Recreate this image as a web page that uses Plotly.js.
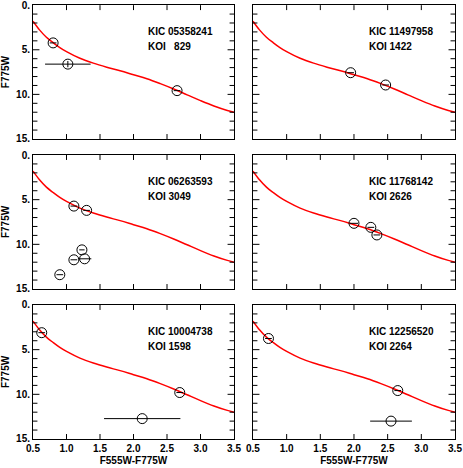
<!DOCTYPE html>
<html>
<head>
<meta charset="utf-8">
<script src="https://cdn.plot.ly/plotly-3.0.1.min.js"></script>
<style>
  body { margin: 0; background: #fff; }
  #myPlot { width: 463px; height: 468px; }
</style>
</head>
<body>
<div id="myPlot"></div>
<script>
// isochrone (same in every panel)
var isoColor = [0.5, 0.6, 0.7, 0.8, 0.9, 1.0, 1.2, 1.4, 1.6, 1.8, 2.0, 2.2, 2.4, 2.6, 2.8, 3.0, 3.2, 3.4, 3.5];
var isoMag   = [1.8, 2.8, 3.6, 4.2, 4.75, 5.2, 5.95, 6.5, 6.95, 7.35, 7.8, 8.25, 8.8, 9.4, 10.05, 10.7, 11.3, 11.8, 12.0];

// stars per panel
var kic = ["05358241", "11497958", "06263593", "11768142", "10004738", "12256520"];
var koi = ["KOI&nbsp;&nbsp;&nbsp;829", "KOI 1422", "KOI 3049", "KOI 2626", "KOI 1598", "KOI 2264"];

var starColor = [
  [0.80, 1.02, 2.65],
  [1.95, 2.47],
  [1.11, 1.30, 1.23, 1.11, 1.27, 0.90],
  [2.00, 2.25, 2.34],
  [0.63, 2.69, 2.13],
  [0.73, 2.65, 2.55]
];
var starMag = [
  [4.23, 6.61, 9.58],
  [7.57, 8.95],
  [5.72, 6.20, 10.62, 11.73, 11.62, 13.40],
  [7.65, 8.10, 8.95],
  [3.10, 9.80, 12.72],
  [3.75, 9.58, 13.00]
];
var colorErr = [
  [0.05, 0.34, 0.05],
  [0.05, 0.05],
  [0.05, 0.05, 0.04, 0.05, 0.10, 0.05],
  [0.06, 0.05, 0.05],
  [0.05, 0.05, 0.57],
  [0.05, 0.05, 0.31]
];
var magErr = [
  [0, 0.35, 0],
  [0, 0],
  [0, 0, 0, 0, 0, 0],
  [0, 0, 0],
  [0, 0, 0],
  [0, 0, 0]
];

// tick positions (inner ones get tick marks on both sides of the frame)
var xTickVals = [1.0, 1.5, 2.0, 2.5, 3.0];
var yMajorVals = [5, 10];
var yMinorVals = [1, 2, 3, 4, 6, 7, 8, 9, 11, 12, 13, 14];

var xDomains = [[0.0713, 0.5054], [0.5464, 0.9827]];
var yDomains = [[0.703, 0.989], [0.3825, 0.6688], [0.062, 0.3483]];

var fam = "Liberation Sans, Arial, sans-serif";
var boldFont = {family: fam, size: 10, color: "#000", weight: "bold"};

var data = [];
var layout = {
  width: 463, height: 468,
  margin: {l: 0, r: 0, t: 0, b: 0},
  showlegend: false,
  paper_bgcolor: "#fff",
  plot_bgcolor: "#fff",
  font: {family: fam, size: 10, color: "#000"},
  annotations: [],
  shapes: []
};

function tickLine(xr, yr, x0, x1, y0, y1) {
  return {type: "line", xref: xr, yref: yr, x0: x0, x1: x1, y0: y0, y1: y1,
          line: {color: "#000", width: 1}, layer: "above"};
}

for (var i = 0; i < 6; i++) {
  var n = i + 1;
  var xa = n === 1 ? "x" : "x" + n;
  var ya = n === 1 ? "y" : "y" + n;
  var col = i % 2;
  var row = Math.floor(i / 2);

  data.push({
    x: isoColor, y: isoMag, xaxis: xa, yaxis: ya,
    mode: "lines", type: "scatter",
    line: {color: "#ff0000", width: 1.5, shape: "spline"},
    hoverinfo: "skip"
  });
  data.push({
    x: starColor[i], y: starMag[i], xaxis: xa, yaxis: ya,
    mode: "markers", type: "scatter",
    marker: {symbol: "circle-open", size: 10, color: "#000", line: {width: 1, color: "#000"}},
    error_x: {type: "data", array: colorErr[i], color: "#000", thickness: 1, width: 0},
    error_y: {type: "data", array: magErr[i], color: "#000", thickness: 1, width: 0}
  });

  var an = n === 1 ? "" : String(n);
  layout["xaxis" + an] = {
    domain: xDomains[col], anchor: ya,
    range: [0.5, 3.5],
    tick0: 0.5, dtick: 0.5, tickformat: ".1f",
    showticklabels: row === 2,
    ticks: "", showline: true, linecolor: "#000", mirror: true,
    showgrid: false, zeroline: false,
    ticklabeloverflow: "allow",
    tickfont: boldFont,
    title: row === 2 ? {text: "F555W-F775W", font: boldFont, standoff: 4} : {text: ""}
  };
  layout["yaxis" + an] = {
    domain: yDomains[row], anchor: xa,
    range: [15, 0],
    tick0: 0, dtick: 5, tickformat: "d", ticksuffix: ".",
    showticklabels: col === 0,
    ticks: "", showline: true, linecolor: "#000", mirror: true,
    showgrid: false, zeroline: false,
    ticklabeloverflow: "allow",
    tickfont: boldFont,
    title: col === 0 ? {text: "F775W", font: boldFont, standoff: 4} : {text: ""}
  };

  // inward tick marks on all four sides of the frame
  var xd = xa + " domain", yd = ya + " domain";
  xTickVals.forEach(function (v) {
    layout.shapes.push(tickLine(xa, yd, v, v, 0, 0.037));
    layout.shapes.push(tickLine(xa, yd, v, v, 1, 0.963));
  });
  yMajorVals.forEach(function (v) {
    layout.shapes.push(tickLine(xd, ya, 0, 0.032, v, v));
    layout.shapes.push(tickLine(xd, ya, 1, 0.968, v, v));
  });
  yMinorVals.forEach(function (v) {
    layout.shapes.push(tickLine(xd, ya, 0, 0.022, v, v));
    layout.shapes.push(tickLine(xd, ya, 1, 0.978, v, v));
  });

  layout.annotations.push({
    xref: xa, yref: ya, x: 2.19, y: 3.0,
    xanchor: "left", yanchor: "middle", showarrow: false,
    text: "KIC " + kic[i], font: boldFont
  });
  layout.annotations.push({
    xref: xa, yref: ya, x: 2.19, y: 4.6,
    xanchor: "left", yanchor: "middle", showarrow: false,
    text: koi[i], font: boldFont
  });
}

Plotly.newPlot("myPlot", data, layout, {displayModeBar: false});
</script>
</body>
</html>
